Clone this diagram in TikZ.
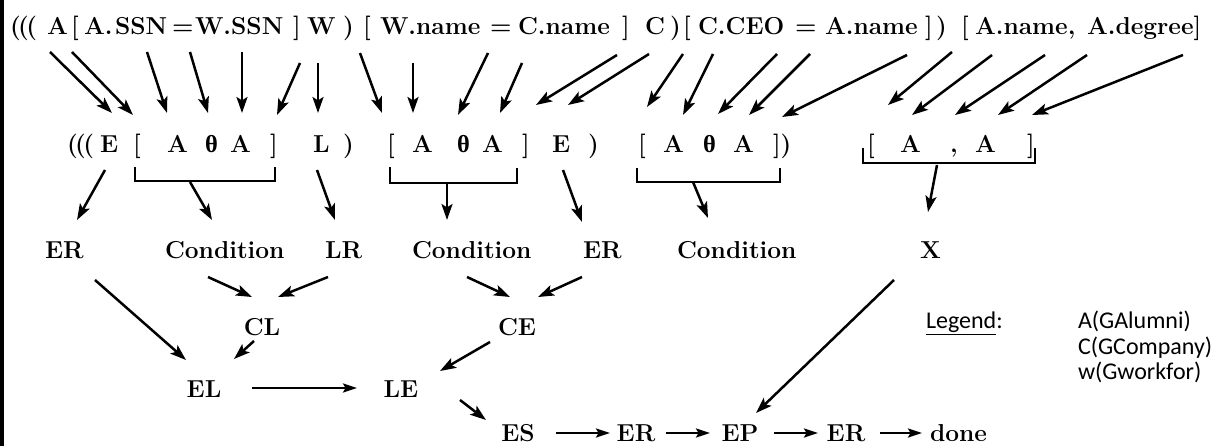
\documentclass[tikz,border=0pt]{standalone}
\usepackage{fontspec}
\usetikzlibrary{arrows.meta}
\newfontfamily\legendfont{Carlito}
\newfontfamily\thetafont{Liberation Serif}
\newcommand{\thetab}{{\thetafont\bfseries θ}}
\newcommand{\opentriple}{(\kern-2.5pt(\kern-2.5pt(}
\begin{document}
\begin{tikzpicture}[x=1pt,y=-1pt,
  tok/.style={anchor=base west,inner sep=0pt,outer sep=0pt,font=\fontsize{24.5}{30}\selectfont\bfseries},
  lbl/.style={anchor=base,inner sep=0pt,outer sep=0pt,font=\fontsize{24.5}{30}\selectfont\bfseries},
  leg/.style={anchor=base west,inner sep=0pt,outer sep=0pt,text height=17pt,text depth=4pt,
    font=\legendfont\fontsize{24}{24}\selectfont},
  arr/.style={line width=2.5pt,-{Stealth[length=16pt,width=11pt,inset=3.5pt]}},
  flow/.style={line width=2.2pt,-{Stealth[length=14pt,width=9pt,inset=2.5pt]}},
  brk/.style={line width=2.6pt}]
\useasboundingbox (0,0) rectangle (1221,446);
\fill (0,0) rectangle (4,446);

% query expression
\node[tok] (q1) at (10,35) {\opentriple};
\node[tok] (q2) at (47,35) {A};
\node[tok] (q3) at (71,35) {[};
\node[tok] (q4) at (84,35) {A.};
\node[tok] (q5) at (115,35) {SSN};
\node[tok] (q6) at (172,35) {=};
\node[tok] (q7) at (195,35) {W.SSN};
\node[tok] (q8) at (293,35) {]};
\node[tok] (q9) at (307,35) {W};
\node[tok] (q10) at (343,35) {)};
\node[tok] (q11) at (363,35) {[};
\node[tok] (q12) at (380,35) {W.name};
\node[tok] (q13) at (490,35) {=};
\node[tok] (q14) at (518,35) {C.name};
\node[tok] (q15) at (622,35) {]};
\node[tok] (q16) at (645,35) {C};
\node[tok] (q17) at (670,35) {)};
\node[tok] (q18) at (683,35) {[};
\node[tok] (q19) at (698,35) {C.CEO};
\node[tok] (q20) at (795,35) {=};
\node[tok] (q21) at (825,35) {A.name};
\node[tok] (q22) at (925,35) {]};
\node[tok] (q23) at (936,35) {)};
\node[tok] (q24) at (961,35) {[};
\node[tok] (q25) at (975,35) {A.name,};
\node[tok] (q26) at (1087,35) {A.degree]};

% token classes
\node[tok] (r1) at (67,153) {\opentriple};
\node[tok] (r2) at (100,153) {E};
\node[tok] (r3) at (133,153) {[};
\node[tok] (r4) at (167,153) {A};
\node[tok] (r5) at (205,153) {\thetab};
\node[tok] (r6) at (230,153) {A};
\node[tok] (r7) at (270,153) {]};
\node[tok] (r8) at (313,153) {L};
\node[tok] (r9) at (343,153) {)};
\node[tok] (r10) at (387,153) {[};
\node[tok] (r11) at (412,153) {A};
\node[tok] (r12) at (457,153) {\thetab};
\node[tok] (r13) at (482,153) {A};
\node[tok] (r14) at (522,153) {]};
\node[tok] (r15) at (552,153) {E};
\node[tok] (r16) at (588,153) {)};
\node[tok] (r17) at (638,153) {[};
\node[tok] (r18) at (663,153) {A};
\node[tok] (r19) at (703,153) {\thetab};
\node[tok] (r20) at (733,153) {A};
\node[tok] (r21) at (773,153) {])};
\node[tok] (r22) at (867,153) {[};
\node[tok] (r23) at (900,153) {A};
\node[tok] (r24) at (950,153) {,};
\node[tok] (r25) at (975,153) {A};
\node[tok] (r26) at (1027,153) {]};

% arrows from expression to token classes
\foreach \i/\sx/\sy/\ex/\ey in {1/50/52/112/113,2/72/52/133/115,3/147/52/167/113,
  4/190/52/208/113,5/242/52/242/113,6/300/63/277/115,7/318/63/318/113,8/360/53/382/113,
  9/413/63/413/113,10/488/53/458/115,11/522/63/500/113,12/617/55/536/105,13/649/54/568/105,
  14/683/54/647/107,15/713/54/683/115,16/777/54/718/114,17/810/54/749/115,18/907/55/782/117,
  19/952/52/888/105,20/992/55/912/115,21/1045/55/955/115,22/1087/55/998/115,23/1183/55/1032/115}
{
  \coordinate (ts\i) at (\sx,\sy);
  \coordinate (te\i) at (\ex,\ey);
  \draw[arr] (ts\i) -- (te\i);
}

% brackets grouping conditions and projection
\draw[brk] (135,167) -- (135,181) -- (275,181) -- (275,167);
\draw[brk] (390,167) -- (390,183) -- (517,183) -- (517,168);
\draw[brk] (637,168) -- (637,182) -- (780,182) -- (780,168);
\draw[brk] (863,148) -- (863,163) -- (1035,163) -- (1035,148);

% recognised constructs
\node[tok] (er1) at (45,259) {ER};
\node[tok] (cond1) at (165,259) {Condition};
\node[tok] (lr) at (325,259) {LR};
\node[tok] (cond2) at (412,259) {Condition};
\node[tok] (er2) at (583,259) {ER};
\node[tok] (cond3) at (677,259) {Condition};
\node[tok] (x) at (920,259) {X};

\foreach \i/\sx/\sy/\ex/\ey in {1/190/182/212/220,2/447/183/447/220,3/693/182/708/218,
  4/937/165/928/212,5/105/170/77/220,6/317/170/335/220,7/563/170/582/222}
{
  \coordinate (bs\i) at (\sx,\sy);
  \coordinate (be\i) at (\ex,\ey);
  \draw[arr] (bs\i) -- (be\i);
}

% reductions
\node[lbl] (cl) at (262,335) {CL};
\node[lbl] (ce) at (517,335) {CE};
\node[lbl] (el) at (204,397) {EL};
\node[lbl] (le) at (401,397) {LE};
\node[lbl] (es) at (518,441) {ES};
\node[lbl] (er3) at (636,441) {ER};
\node[lbl] (ep) at (740,441) {EP};
\node[lbl] (er4) at (846,441) {ER};
\node[tok] (done) at (930,441) {done};

\foreach \i/\sx/\sy/\ex/\ey in {1/95/280/186/360,2/208/277/252/297,3/328/277/278/297,
  4/467/277/510/297,5/582/277/538/297,6/894/280/756/413,7/254/341/234/359,
  8/490/342/440/371,9/460/400/486/420}
{
  \coordinate (cs\i) at (\sx,\sy);
  \coordinate (ce\i) at (\ex,\ey);
  \draw[arr] (cs\i) -- (ce\i);
}

\foreach \i/\sx/\sy/\ex/\ey in {1/252/388/357/388,2/556/433/610/433,3/666/433/710/433,
  4/774/433/818/433,5/880/433/922/433}
{
  \coordinate (fs\i) at (\sx,\sy);
  \coordinate (fe\i) at (\ex,\ey);
  \draw[flow] (fs\i) -- (fe\i);
}

% legend
\node[leg] (legend) at (926,329) {\underline{Legend}:};
\node[leg] (la) at (1078,329) {A(GAlumni)};
\node[leg] (lc) at (1078,354) {C(GCompany)};
\node[leg] (lw) at (1078,379) {w(Gworkfor)};
\end{tikzpicture}
\end{document}
